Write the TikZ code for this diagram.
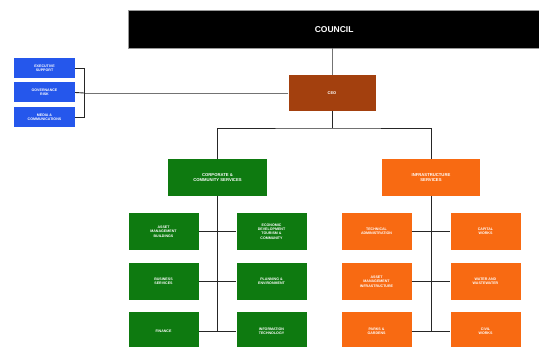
\documentclass[tikz,border=0pt]{standalone}
\usepackage{fontspec}
\setmainfont{Liberation Sans}
\definecolor{ceobrown}{HTML}{A3400E}
\definecolor{bluebox}{HTML}{2557EC}
\definecolor{greenbox}{HTML}{0E7A10}
\definecolor{orangebox}{HTML}{F86A12}
\begin{document}
\begin{tikzpicture}[x=1pt,y=-1pt,
  box/.style={draw=none,inner sep=0pt,align=center,text=white,font=\fontsize{3.6}{4.3}\selectfont\bfseries},
  conn/.style={draw=black!85,line width=0.9pt},
  bluest/.style={box,fill=bluebox,minimum width=61pt,minimum height=20pt},
  greenst/.style={box,fill=greenbox,minimum width=70pt,minimum height=37pt},
  orangest/.style={box,fill=orangebox,minimum width=70pt,minimum height=37pt}]
\useasboundingbox (0,0) rectangle (539,347);
\fill[white] (0,0) rectangle (539,347);
% council
\node[box,fill=black,draw=black!40,line width=0.3pt,minimum width=412pt,minimum height=38pt,font=\fontsize{8.5}{10}\selectfont\bfseries,anchor=north west] (council) at (128,10) {COUNCIL};
% CEO
\node[box,fill=ceobrown,minimum width=87pt,minimum height=36pt,font=\fontsize{4}{5}\selectfont\bfseries] (ceo) at (332,93) {CEO};
% blue
\node[bluest] (b1) at (44.5,68) {EXECUTIVE\\SUPPORT};
\node[bluest] (b2) at (44.5,92.5) {GOVERNANCE\\RISK};
\node[bluest] (b3) at (44.5,117.5) {MEDIA \&\\COMMUNICATIONS};
\coordinate (br) at (84,93);
% divisions
\node[greenst,minimum width=99pt,minimum height=37pt,font=\fontsize{4.2}{5.2}\selectfont\bfseries] (ccs) at (217.5,177.5) {CORPORATE \&\\COMMUNITY SERVICES};
\node[orangest,minimum width=98pt,minimum height=37pt,font=\fontsize{4.2}{5.2}\selectfont\bfseries] (is) at (431,177.5) {INFRASTRUCTURE\\SERVICES};
\coordinate (bus) at (332,128);
% green children
\node[greenst] (g11) at (163.5,231.5) {ASSET\\MANAGEMENT\\BUILDINGS};
\node[greenst] (g12) at (271.5,231.5) {ECONOMIC\\DEVELOPMENT\\TOURISM \&\\COMMUNITY};
\node[greenst] (g21) at (163.5,281.5) {BUSINESS\\SERVICES};
\node[greenst] (g22) at (271.5,281.5) {PLANNING \&\\ENVIRONMENT};
\node[greenst] (g31) at (163.5,331) {FINANCE};
\node[greenst] (g32) at (271.5,331) {INFORMATION\\TECHNOLOGY};
% orange children
\node[orangest] (o11) at (376.5,231.5) {TECHNICAL\\ADMINISTRATION};
\node[orangest] (o12) at (485.5,231.5) {CAPITAL\\WORKS};
\node[orangest] (o21) at (376.5,281.5) {ASSET\\MANAGEMENT\\INFRASTRUCTURE};
\node[orangest] (o22) at (485.5,281.5) {WATER AND\\WASTEWATER};
\node[orangest] (o31) at (376.5,331) {PARKS \&\\GARDENS};
\node[orangest] (o32) at (485.5,331) {CIVIL\\WORKS};
% connectors
\begin{scope}[on background layer/.style={}]
\draw[conn,draw=black!55] (council.south -| ceo.north) -- (ceo.north);
\draw[conn,draw=black!55] (ceo.west) -- (br);
\draw[conn] (b1.east) -| (br);
\draw[conn] (b3.east) -| (br);
\draw[conn] (b2.east) -- (br);
\draw[conn] (ceo.south) -- (bus);
\draw[conn] (ccs.north) |- (bus) -| (is.north);
\coordinate (gv) at (ccs.south |- g31.east);
\coordinate (ov) at (is.south |- o31.east);
\draw[conn] (ccs.south) -- (gv);
\draw[conn] (is.south) -- (ov);
\draw[conn] (g11.east) -- (g12.west);
\draw[conn] (g21.east) -- (g22.west);
\draw[conn] (g31.east) -- (g32.west);
\draw[conn] (o11.east) -- (o12.west);
\draw[conn] (o21.east) -- (o22.west);
\draw[conn] (o31.east) -- (o32.west);
\end{scope}
\end{tikzpicture}
\end{document}
